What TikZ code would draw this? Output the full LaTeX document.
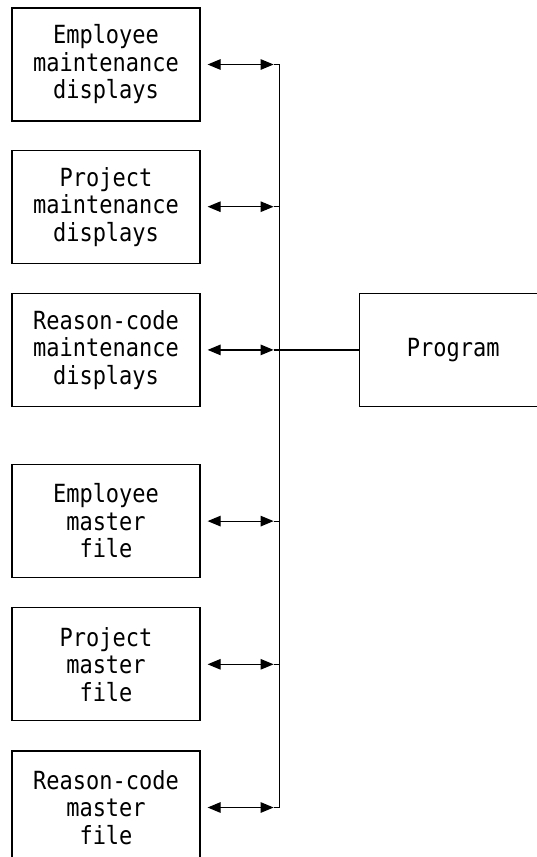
\documentclass[tikz,border=0pt]{standalone}
\usepackage{fontspec}
\usepackage{tikz}
\usetikzlibrary{arrows.meta, positioning, calc}
\newfontfamily\diagfont[FakeStretch=0.88]{DejaVu Sans Mono}

\begin{document}
\begin{tikzpicture}[
    x=1pt, y=-1pt,
    unit/.style={draw, line width=1.2pt, minimum width=188pt, minimum height=113pt,
                 inner sep=0pt, align=center,
                 font=\diagfont\fontsize{25}{27.5}\selectfont},
    link/.style={line width=1.2pt},
    flow/.style={link, {Triangle[length=13pt,width=10.5pt]}-{Triangle[length=13pt,width=10.5pt]}},
]
    \useasboundingbox (0,0) rectangle (537,857);
    \clip (0,0) rectangle (537,857);

    % maintenance displays
    \node[unit] (empdsp) at (106,64.5) {Employee\\maintenance\\displays};
    \node[unit, below=28pt of empdsp] (prjdsp) {Project\\maintenance\\displays};
    \node[unit, below=29pt of prjdsp] (rsndsp) {Reason-code\\maintenance\\displays};

    % master files
    \node[unit, below=57pt of rsndsp] (empfile) {Employee\\master\\file};
    \node[unit, below=29pt of empfile] (prjfile) {Project\\master\\file};
    \node[unit, below=29pt of prjfile] (rsnfile) {Reason-code\\master\\file};

    % program
    \node[unit, right=158pt of rsndsp] (prog) {Program};

    % arrows to the bus
    \foreach \n in {empdsp, prjdsp, rsndsp, empfile, prjfile, rsnfile} {
        \draw[flow] ([xshift=7pt]\n.east) -- ([xshift=73pt]\n.east) coordinate (\n-tip);
        \coordinate (\n-bus) at ([xshift=79pt]\n.east);
        \draw[link] (\n-tip) -- (\n-bus);
    }

    % bus
    \draw[link] (empdsp-bus) -- (rsnfile-bus);
    \draw[link] (rsndsp-bus) -- (prog);
\end{tikzpicture}
\end{document}
